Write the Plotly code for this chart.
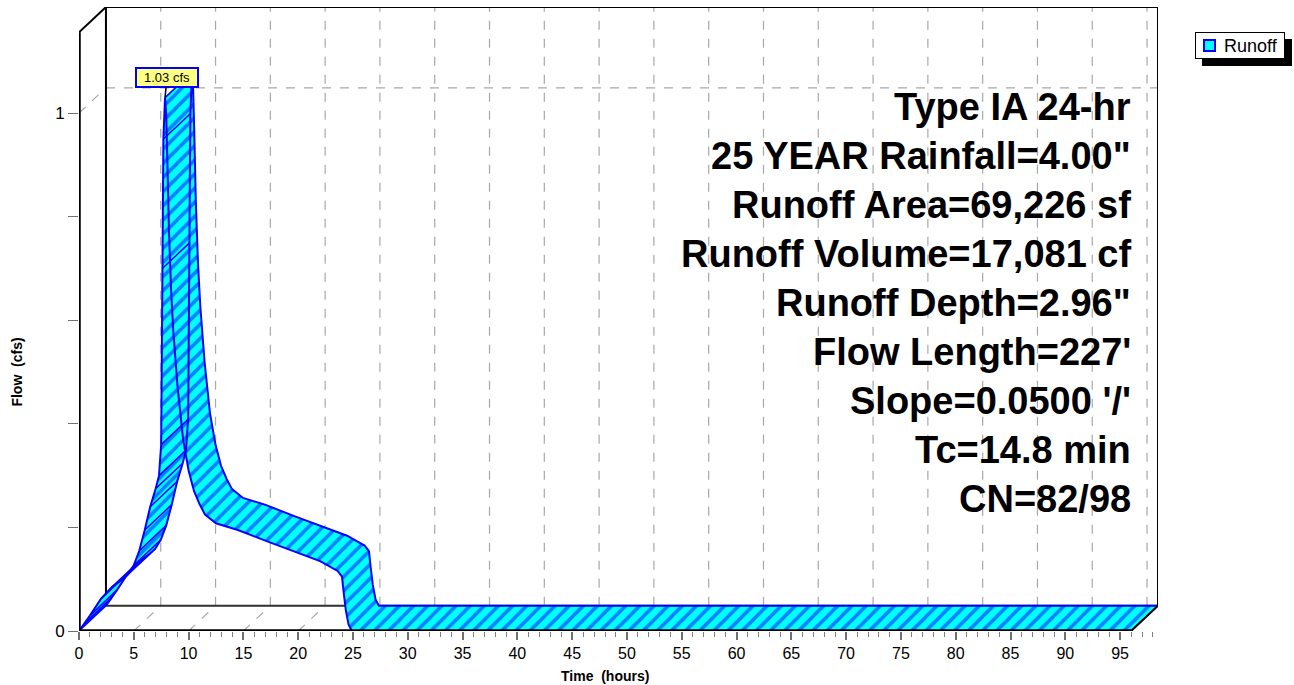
''' Runoff hydrograph (HydroCAD style, pseudo-3D ribbon) '''
import plotly.graph_objects as go

# hydrograph, front face: time (hours) and flow (cfs)
time_hr = [0, 0.5, 1, 2, 3, 4, 4.5, 5, 5.5, 6, 6.5, 7, 7.3, 7.5, 7.6, 7.7, 7.85,
           7.95, 8.05, 8.2, 8.4, 8.6, 9.0, 9.5, 10.0, 10.5, 11.0, 11.5, 12.5,
           14.5, 17.3, 20.0, 22.0, 23.6, 24.0, 24.15, 24.35, 24.6, 24.9, 96]
flow_cfs = [0, 0.014, 0.03, 0.062, 0.085, 0.1, 0.11, 0.127, 0.155, 0.195, 0.24, 0.275,
            0.30, 0.36, 0.70, 0.95, 1.03,
            1.00, 0.92, 0.78, 0.66, 0.58, 0.47, 0.37, 0.31, 0.27, 0.245, 0.225, 0.208,
            0.195, 0.172, 0.151, 0.135, 0.116, 0.105, 0.075, 0.04, 0.012, 0, 0]

peak_time = 7.85
peak_flow = 1.03
peak_label = '1.03 cfs'
series_name = 'Runoff'

x_major = list(range(0, 100, 5))
y_ticks = [0, 0.2, 0.4, 0.6, 0.8, 1.0]
y_ticktext = ['0', '', '', '', '', '1']

info_lines = ['Type IA 24-hr', '25 YEAR Rainfall=4.00"', 'Runoff Area=69,226 sf',
              'Runoff Volume=17,081 cf', 'Runoff Depth=2.96"', "Flow Length=227'",
              "Slope=0.0500 '/'", 'Tc=14.8 min', 'CN=82/98']

# depth of the 3D effect in data units
DX = 2.46
DY = 0.049
X_END = 96
Y_TOP = 1.205
X_RIGHT = X_END + DX

FONT = 'Liberation Sans, Arial, sans-serif'
CYAN = '#00FFFF'
BLUE = '#0000FF'
GRID = '#A8A8A8'

# plot area in pixels (for the paper-positioned legend box)
L, T, W, H = 79, 7, 1079, 624

def px(x):
    return (x - L) / W

def py(y):
    return (T + H - y) / H

fig = go.Figure()

# ribbon: one parallelogram per segment, all with the same winding
rx, ry = [], []
for i in range(len(time_hr) - 1):
    t0, t1 = time_hr[i], time_hr[i + 1]
    q0, q1 = flow_cfs[i], flow_cfs[i + 1]
    xs = [t0, t1, t1 + DX, t0 + DX]
    ys = [q0, q1, q1 + DY, q0 + DY]
    area = sum(xs[k] * ys[(k + 1) % 4] / 0.0212 - xs[(k + 1) % 4] * ys[k] / 0.0212
               for k in range(4))
    if area < 0:
        xs.reverse()
        ys.reverse()
    rx += xs + [xs[0], None]
    ry += ys + [ys[0], None]

fig.add_trace(
    go.Scatter(
        x=rx, y=ry,
        mode='lines',
        fill='toself',
        fillcolor=CYAN,
        fillpattern=dict(shape='/', bgcolor=CYAN, fgcolor=BLUE, size=10, solidity=0.35),
        line=dict(width=0),
        name=series_name,
        hoverinfo='skip',
        showlegend=False
    )
)

# connectors on the rising limb
cx, cy = [], []
for t, q in zip(time_hr, flow_cfs):
    if t <= peak_time or t == time_hr[-1]:
        cx += [t, t + DX, None]
        cy += [q, q + DY, None]

fig.add_trace(
    go.Scatter(x=cx, y=cy, mode='lines', line=dict(color=BLUE, width=1.5),
               hoverinfo='skip', showlegend=False)
)

# back and front edges
fig.add_trace(
    go.Scatter(x=[t + DX for t in time_hr], y=[q + DY for q in flow_cfs],
               mode='lines', line=dict(color=BLUE, width=2),
               hoverinfo='skip', showlegend=False)
)
fig.add_trace(
    go.Scatter(x=time_hr, y=flow_cfs, mode='lines', line=dict(color=BLUE, width=2),
               hoverinfo='skip', showlegend=False)
)

shapes = []

def seg(x0, y0, x1, y1, color='black', width=2, dash='solid', layer='above'):
    shapes.append(dict(type='line', xref='x', yref='y', x0=x0, y0=y0, x1=x1, y1=y1,
                       line=dict(color=color, width=width, dash=dash), layer=layer))

# back wall gridlines and floor diagonals
for t in x_major:
    seg(t + DX, DY, t + DX, Y_TOP, GRID, 1.2, 'dash', 'below')
    if t > 0:
        seg(t, 0, t + DX, DY, GRID, 1.2, 'dash', 'below')
seg(DX, 1 + DY, X_RIGHT, 1 + DY, GRID, 1.2, 'dash', 'below')
seg(0, 1, DX, 1 + DY, GRID, 1.2, 'dash', 'below')

# frame
seg(DX, DY, X_RIGHT, DY, '#303030', 2, 'solid', 'below')
seg(DX, DY, DX, Y_TOP, 'black', 2, 'solid', 'below')
seg(X_RIGHT, DY, X_RIGHT, Y_TOP, 'black', 2)
seg(DX, Y_TOP, X_RIGHT, Y_TOP, 'black', 2)
seg(0, Y_TOP - DY, DX, Y_TOP, 'black', 2)
seg(0, 0, 0, Y_TOP - DY, 'black', 3.5)
seg(0, 0, X_END, 0, 'black', 3.5)
seg(X_END, 0, X_RIGHT, DY, 'black', 2)

annotations = []
for k, line in enumerate(info_lines):
    annotations.append(dict(
        x=96.2, y=(631 - 106.5 - 49 * k) / 518.0, xref='x', yref='y',
        text='<b>%s</b>' % line, showarrow=False, xanchor='right', yanchor='middle',
        font=dict(family=FONT, size=38, color='black')
    ))

annotations.append(dict(
    x=peak_time, y=peak_flow, xref='x', yref='y', text=peak_label,
    showarrow=True, arrowhead=0, arrowwidth=1.5, arrowcolor='black',
    ax=2, ay=-20, bgcolor='#FFFF80', bordercolor=BLUE, borderwidth=2, borderpad=1,
    width=58, height=15, font=dict(family=FONT, size=13, color='black')
))

annotations.append(dict(
    x=48, y=-0.072, xref='x', yref='paper', text='<b>Time  (hours)</b>',
    showarrow=False, xanchor='center', yanchor='middle',
    font=dict(family=FONT, size=14, color='black')
))
annotations.append(dict(
    x=-0.057, y=0.5, xref='paper', yref='y', text='<b>Flow  (cfs)</b>',
    showarrow=False, textangle=-90, xanchor='center', yanchor='middle',
    font=dict(family=FONT, size=14, color='black')
))

# legend box with drop shadow
annotations.append(dict(
    x=px(1202), y=py(39), xref='paper', yref='paper', xanchor='left', yanchor='top',
    text=' ', showarrow=False, width=90, height=27, bgcolor='black',
    borderwidth=0, borderpad=0
))
annotations.append(dict(
    x=px(1195), y=py(32), xref='paper', yref='paper', xanchor='left', yanchor='top',
    text=' ', showarrow=False, width=88, height=25, bgcolor='white',
    bordercolor='black', borderwidth=1, borderpad=0
))
annotations.append(dict(
    x=px(1203), y=py(39), xref='paper', yref='paper', xanchor='left', yanchor='top',
    text=' ', showarrow=False, width=9, height=9, bgcolor=CYAN,
    bordercolor=BLUE, borderwidth=2, borderpad=0
))
annotations.append(dict(
    x=px(1222), y=py(45.5), xref='paper', yref='paper', xanchor='left', yanchor='middle',
    text=series_name, showarrow=False, font=dict(family=FONT, size=18, color='black')
))

fig.update_layout(
    width=1294, height=685,
    margin=dict(l=L, r=1294 - L - W, t=T, b=685 - T - H),
    paper_bgcolor='white',
    plot_bgcolor='white',
    font=dict(family=FONT, size=16, color='black'),
    shapes=shapes,
    annotations=annotations,
    showlegend=False,
    xaxis=dict(
        range=[0, X_RIGHT], showgrid=False, zeroline=False, showline=False,
        tickvals=x_major, ticks='outside', ticklen=8, tickwidth=1.5, tickcolor='#707070',
        minor=dict(dtick=1, tick0=0, ticks='outside', ticklen=5, tickwidth=1.2,
                   tickcolor='#808080', showgrid=False),
        tickfont=dict(family=FONT, size=16)
    ),
    yaxis=dict(
        range=[0, Y_TOP], showgrid=False, zeroline=False, showline=False,
        tickvals=y_ticks, ticktext=y_ticktext, ticks='outside', ticklen=10,
        tickwidth=1.2, tickcolor='#707070', tickfont=dict(family=FONT, size=17)
    )
)

fig.write_html('out.html', config={'displayModeBar': False},
               post_script="document.body.style.margin='0';")
